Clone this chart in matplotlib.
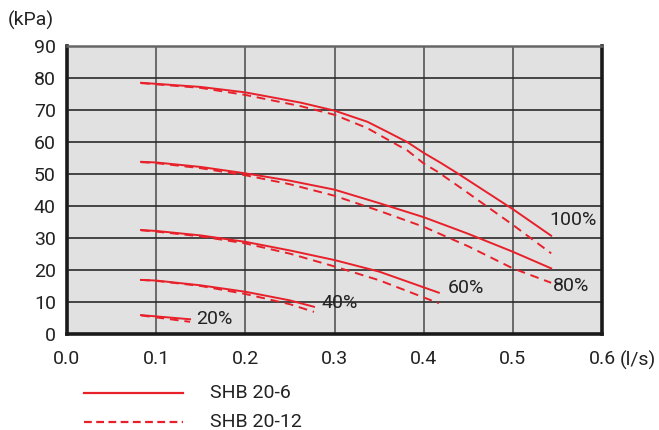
import matplotlib
matplotlib.use("Agg")
import matplotlib.pyplot as plt
from matplotlib.lines import Line2D

plt.rcParams['font.family'] = ['Roboto', 'DejaVu Sans']

RED = '#e8202a'
TXT = '#222222'
FS = 14

# flow (l/s) and pressure (kPa)
x100_6 = [0.083, 0.15, 0.2, 0.262, 0.3, 0.337, 0.359, 0.382, 0.4, 0.419, 0.438, 0.5, 0.543]
y100_6 = [78.6, 77.3, 75.6, 72.4, 69.9, 66.4, 63.3, 60.0, 56.7, 53.6, 50.3, 39.1, 30.8]
x100_12 = [0.083, 0.15, 0.2, 0.262, 0.3, 0.337, 0.367, 0.382, 0.4, 0.415, 0.445, 0.5, 0.543]
y100_12 = [78.5, 77.0, 74.8, 71.3, 68.6, 64.4, 59.7, 57.4, 53.4, 50.9, 45.1, 34.2, 25.3]

x80_6 = [0.083, 0.1, 0.15, 0.2, 0.25, 0.3, 0.35, 0.4, 0.45, 0.5, 0.543]
y80_6 = [53.9, 53.7, 52.3, 50.3, 48.0, 45.2, 41.0, 36.6, 31.4, 25.8, 20.6]
x80_12 = [0.083, 0.1, 0.15, 0.2, 0.25, 0.3, 0.35, 0.4, 0.45, 0.5, 0.543]
y80_12 = [53.8, 53.5, 51.9, 49.7, 46.9, 43.3, 38.6, 33.6, 27.5, 20.6, 16.1]

x60_6 = [0.083, 0.1, 0.15, 0.2, 0.25, 0.3, 0.35, 0.417]
y60_6 = [32.6, 32.3, 30.9, 28.9, 26.2, 23.2, 19.6, 13.0]
x60_12 = [0.083, 0.1, 0.15, 0.2, 0.25, 0.3, 0.35, 0.417]
y60_12 = [32.5, 32.1, 30.6, 28.4, 25.2, 21.2, 16.9, 9.7]

x40_6 = [0.083, 0.1, 0.15, 0.2, 0.25, 0.277]
y40_6 = [17.0, 16.8, 15.3, 13.3, 10.6, 8.6]
x40_12 = [0.083, 0.1, 0.15, 0.2, 0.25, 0.277]
y40_12 = [17.0, 16.7, 15.1, 12.6, 9.4, 7.0]

x20_6 = [0.083, 0.138]
y20_6 = [6.0, 4.7]
x20_12 = [0.083, 0.138]
y20_12 = [5.9, 3.9]

labels = ['100%', '80%', '60%', '40%', '20%']
label_x = [0.567, 0.565, 0.447, 0.306, 0.1655]
label_y = [35.7, 15.1, 14.5, 9.7, 4.8]

xticks = [0.0, 0.1, 0.2, 0.3, 0.4, 0.5, 0.6]
yticks = [0, 10, 20, 30, 40, 50, 60, 70, 80, 90]

fig = plt.figure(figsize=(6.59, 4.30), dpi=100)
ax = fig.add_axes([67/659, 1-334.3/430, 535/659, 288/430])
ax.set_facecolor('#e1e1e1')
ax.set_xlim(0, 0.6)
ax.set_ylim(0, 90)
ax.set_xticks(xticks)
ax.set_yticks(yticks)
ax.set_xticklabels(['%.1f' % v for v in xticks])
ax.tick_params(length=0, labelsize=FS, colors=TXT)
ax.tick_params(axis='x', pad=11)
ax.tick_params(axis='y', pad=8)
for v in xticks[1:-1]:
    ax.axvline(v, color='#555555', lw=1.2, zorder=1)
for v in yticks[1:-1]:
    ax.axhline(v, color='#2a2a2a', lw=1.2, zorder=1)
for side in ['left', 'bottom', 'right']:
    ax.spines[side].set_linewidth(2.6)
    ax.spines[side].set_color('#1a1a1a')
ax.spines['top'].set_linewidth(1.8)
ax.spines['top'].set_color('#666666')

lw = 1.4
dash = (0, (4.5, 3))
for xs, ys in [(x100_6, y100_6), (x80_6, y80_6), (x60_6, y60_6), (x40_6, y40_6), (x20_6, y20_6)]:
    ax.plot(xs, ys, color=RED, lw=lw, zorder=3)
for xs, ys in [(x100_12, y100_12), (x80_12, y80_12), (x60_12, y60_12), (x40_12, y40_12), (x20_12, y20_12)]:
    ax.plot(xs, ys, color=RED, lw=lw, ls=dash, zorder=3)

for t, lx, ly in zip(labels, label_x, label_y):
    ax.text(lx, ly, t, ha='center', va='center', fontsize=FS, color=TXT, zorder=4)

fig.text(31/659, 1-20/430, '(kPa)', ha='center', va='center', fontsize=FS, color=TXT)
fig.text(620/659, 1-360/430, '(l/s)', ha='left', va='center', fontsize=FS, color=TXT)

# legend
fig.add_artist(Line2D([84/659, 183/659], [1-393/430, 1-393/430], color=RED, lw=1.6))
fig.add_artist(Line2D([84/659, 183/659], [1-422/430, 1-422/430], color=RED, lw=1.6, ls=(0, (3.5, 2))))
fig.text(210/659, 1-393/430, 'SHB 20-6', ha='left', va='center', fontsize=FS, color=TXT)
fig.text(210/659, 1-422/430, 'SHB 20-12', ha='left', va='center', fontsize=FS, color=TXT)

fig.savefig('out.png', dpi=100)
